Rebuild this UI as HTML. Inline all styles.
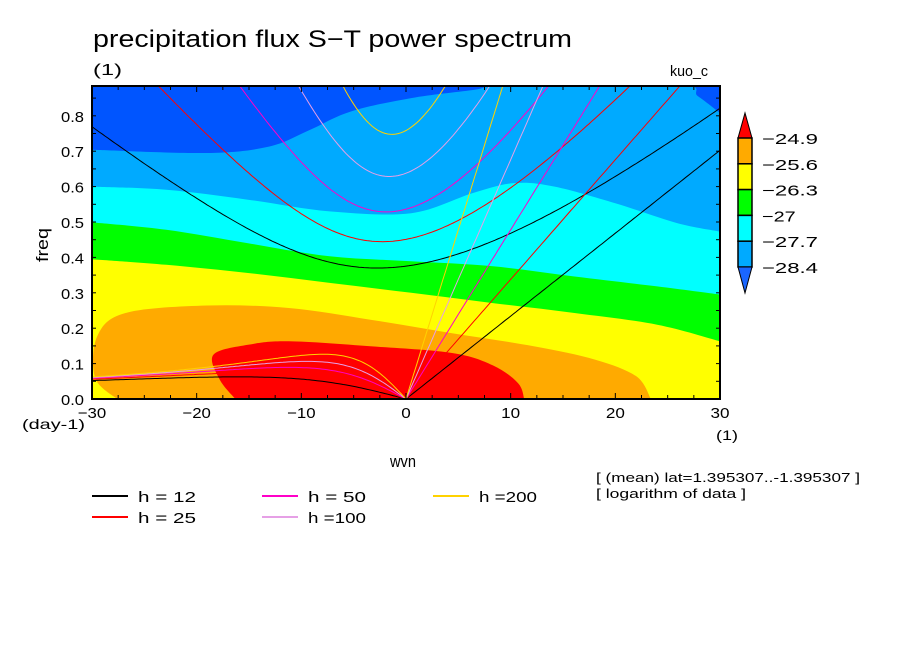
<!DOCTYPE html>
<html><head><meta charset="utf-8"><style>
body{margin:0;background:#fff;}
svg text{font-family:"Liberation Sans",sans-serif;fill:#000;}
</style></head><body>
<svg id="chart" width="904" height="654" viewBox="0 0 904 654" xmlns="http://www.w3.org/2000/svg">
<defs><clipPath id="pc"><rect x="92" y="86" width="628" height="313"/></clipPath></defs>
<text x="93" y="47" font-size="24" textLength="479" lengthAdjust="spacingAndGlyphs">precipitation flux S−T power spectrum</text>
<text x="93" y="75" font-size="16" textLength="29" lengthAdjust="spacingAndGlyphs">(1)</text>
<text x="670" y="76" font-size="15" textLength="38" lengthAdjust="spacingAndGlyphs">kuo_c</text>
<g id="fills" clip-path="url(#pc)"></g>
<g id="curves" clip-path="url(#pc)"></g>
<g id="axes"></g>
<text transform="translate(48,245) rotate(-90)" font-size="17" text-anchor="middle" textLength="34" lengthAdjust="spacingAndGlyphs">freq</text>
<text x="22" y="429" font-size="14" textLength="63" lengthAdjust="spacingAndGlyphs">(day-1)</text>
<text x="716" y="440" font-size="14" textLength="22" lengthAdjust="spacingAndGlyphs">(1)</text>
<text x="390" y="467" font-size="17" textLength="26" lengthAdjust="spacingAndGlyphs">wvn</text>
<text x="596" y="482" font-size="13" textLength="264" lengthAdjust="spacingAndGlyphs">[ (mean) lat=1.395307..-1.395307 ]</text>
<text x="596" y="498" font-size="13" textLength="150" lengthAdjust="spacingAndGlyphs">[ logarithm of data ]</text>
<g id="legend"></g>
<g id="cbar"></g>
</svg>
<script>
const NS="http://www.w3.org/2000/svg";
// data
const levels=[-24.9,-25.6,-26.3,-27,-27.7,-28.4];
const bandColors=["#ff0000","#ffaa00","#ffff00","#00ff00","#00ffff","#00aaff","#0055ff"];
const wvnSamples=[-30,-22.9,-15.1,-7.3,0.5,8.3,16.1,24,30];
const bnd284=[[-30,0.704],[-19,0.695],[-13.1,0.713],[-9.2,0.76],[-5.3,0.812],[0.5,0.85],[6.4,0.873],[10.3,0.89],[25.9,0.89],[27.9,0.855],[30,0.808]];
const bnd277=[[-30,0.60],[-22.9,0.591],[-15.1,0.563],[-7.3,0.53],[0.5,0.525],[6.4,0.582],[10.3,0.61],[14.2,0.60],[20,0.553],[25.9,0.497],[30,0.473]];
const bnd270=[0.499,0.478,0.44,0.403,0.389,0.375,0.346,0.318,0.295];
const bnd263=[0.395,0.379,0.356,0.328,0.30,0.271,0.243,0.21,0.163];
const blob256=[[-27.6,0],[-29.7,0.06],[-29.5,0.177],[-26.8,0.243],[-19,0.264],[-11.2,0.257],[-3.4,0.224],[4.4,0.186],[12.2,0.149],[18.1,0.111],[22,0.064],[23.4,0]];
const blob249=[[-16.3,0],[-17.8,0.055],[-18.4,0.125],[-15.1,0.153],[-11.2,0.163],[-3.4,0.149],[4.4,0.13],[8.3,0.095],[10.7,0.045],[11.3,0]];
const depths=[12,25,50,100,200];
const depthLabels=["h = 12","h = 25","h = 50","h =100","h =200"];
const depthColors=["#000000","#ff0000","#ff00c8","#e6a0e6","#ffd200"];
const xTicks=[-30,-20,-10,0,10,20,30];
const yTicks=[0,0.1,0.2,0.3,0.4,0.5,0.6,0.7,0.8];

const X0=92,X1=720,Y0=399,YT=86;
const xs=v=>X0+(v+30)/60*(X1-X0);
const ys=v=>Y0-v/0.1*35.4;
function el(tag,at,parent){const e=document.createElementNS(NS,tag);for(const k in at)e.setAttribute(k,at[k]);parent.appendChild(e);return e;}
const fills=document.getElementById('fills');
function smoothPath(pts,closeLow){
  const P=pts.map(p=>[xs(p[0]),ys(p[1])]);
  let d="M"+P[0][0].toFixed(1)+","+P[0][1].toFixed(1);
  for(let i=0;i<P.length-1;i++){
    const p0=P[Math.max(0,i-1)],p1=P[i],p2=P[i+1],p3=P[Math.min(P.length-1,i+2)];
    const c1=[p1[0]+(p2[0]-p0[0])/6,p1[1]+(p2[1]-p0[1])/6];
    const c2=[p2[0]-(p3[0]-p1[0])/6,p2[1]-(p3[1]-p1[1])/6];
    d+=" C"+c1.map(v=>v.toFixed(1)).join(",")+" "+c2.map(v=>v.toFixed(1)).join(",")+" "+p2[0].toFixed(1)+","+p2[1].toFixed(1);
  }
  if(closeLow){d+=" L"+(X1+5)+","+P[P.length-1][1].toFixed(1)+" L"+(X1+5)+","+(Y0+5)+" L"+(X0-5)+","+(Y0+5)+" L"+(X0-5)+","+P[0][1].toFixed(1);}
  return d+" Z";
}
function band(pts,color,name,closeLow){
  const e=el('path',{d:smoothPath(pts,closeLow),fill:color},fills);
  
  
}
const bg=el('rect',{x:X0,y:YT,width:X1-X0,height:Y0-YT,fill:bandColors[6]},fills);


band(bnd284,bandColors[5],'band-28.4',true);
band(bnd277,bandColors[4],'band-27.7',true);
band(wvnSamples.map((w,i)=>[w,bnd270[i]]),bandColors[3],'band-27',true);
band(wvnSamples.map((w,i)=>[w,bnd263[i]]),bandColors[2],'band-26.3',true);
band(blob256,bandColors[1],'band-25.6',false);
band(blob249,bandColors[0],'band-24.9',false);

// dispersion curves
const A=6.371e6,BETA=2*7.292e-5/A,G=9.81,CPD=86400/(2*Math.PI);
const curves=document.getElementById('curves');
function line(pts,color,name){
  const e=el('polyline',{points:pts.map(p=>xs(p[0]).toFixed(1)+","+ys(p[1]).toFixed(1)).join(" "),fill:"none",stroke:color,"stroke-width":1},curves);
  
  
}
depths.forEach((h,i)=>{
  const c=Math.sqrt(G*h);
  const er=[],ig=[],kv=[];
  for(let s=-30;s<=30.001;s+=0.25){
    const k=s/A;
    if(s<=0) er.push([s,(-BETA*k/(k*k+3*BETA/c))*CPD]);
    if(s>=0) kv.push([s,c*k*CPD]);
    let w=Math.sqrt(c*c*k*k+3*BETA*c);
    for(let it=0;it<30;it++){const f=w*w*w-(c*c*k*k+3*BETA*c)*w-BETA*k*c*c;const d=3*w*w-(c*c*k*k+3*BETA*c);w-=f/d;}
    ig.push([s,w*CPD]);
  }
  line(er,depthColors[i],'er-curve-h'+h);
  line(kv,depthColors[i],'kelvin-line-h'+h);
  line(ig,depthColors[i],'ig-curve-h'+h);
});

// axes
const axes=document.getElementById('axes');
for(let v=-30;v<=30;v+=2.5){
  const x=xs(v),L=(v%10===0)?6:4;
  el('line',{x1:x,y1:Y0,x2:x,y2:Y0-L,stroke:"#000"},axes);
  el('line',{x1:x,y1:YT,x2:x,y2:YT+L,stroke:"#000"},axes);
}
for(let v=0;v<=0.88;v+=0.05){
  const y=ys(v),L=4;
  el('line',{x1:X0,y1:y,x2:X0+L,y2:y,stroke:"#000"},axes);
  el('line',{x1:X1,y1:y,x2:X1-L,y2:y,stroke:"#000"},axes);
}
const fr=el('rect',{x:X0,y:YT,width:X1-X0,height:Y0-YT,fill:"none",stroke:"#000","stroke-width":2},axes);


xTicks.forEach(v=>{const s=(v<0?"−":"")+Math.abs(v);const t=el('text',{x:xs(v),y:418,"font-size":15,"text-anchor":"middle",textLength:s.length*9.5,lengthAdjust:"spacingAndGlyphs"},axes);t.textContent=s;

});
yTicks.forEach(v=>{const t=el('text',{x:84,y:ys(v)+6,"font-size":15,"text-anchor":"end",textLength:23,lengthAdjust:"spacingAndGlyphs"},axes);t.textContent=v.toFixed(1);

});

// legend
const lg=document.getElementById('legend');
const lpos=[[92,496],[92,517],[262,496],[262,517],[433,496]];
depths.forEach((h,i)=>{
  const [x,y]=lpos[i];
  const g=el('g',{},lg);
  
  
  el('line',{x1:x,y1:y,x2:x+36,y2:y,stroke:depthColors[i],"stroke-width":2},g);
  const t=el('text',{x:x+46,y:y+6,"font-size":15,textLength:58,lengthAdjust:"spacingAndGlyphs"},g);t.textContent=depthLabels[i];
});

// colorbar
const cb=document.getElementById('cbar');
const cbX=738,cbW=14,cbTop=138,cbH=25.8;
el('polygon',{points:`${cbX},${cbTop} ${cbX+cbW},${cbTop} ${cbX+cbW/2},113`,fill:bandColors[0],stroke:"#000"},cb);
for(let i=1;i<=5;i++){
  const r=el('rect',{x:cbX,y:cbTop+(i-1)*cbH,width:cbW,height:cbH,fill:bandColors[i],stroke:"#000","stroke-width":1.5},cb);
  
  
}
const cbBot=cbTop+5*cbH;
el('polygon',{points:`${cbX},${cbBot} ${cbX+cbW},${cbBot} ${cbX+cbW/2},293`,fill:"#1a66ff",stroke:"#000"},cb);
levels.forEach((v,i)=>{const s="−"+Math.abs(v);const t=el('text',{x:762,y:cbTop+i*cbH+6,"font-size":15,textLength:s.length*11.2,lengthAdjust:"spacingAndGlyphs"},cb);t.textContent=s;

});
</script>
</body></html>
